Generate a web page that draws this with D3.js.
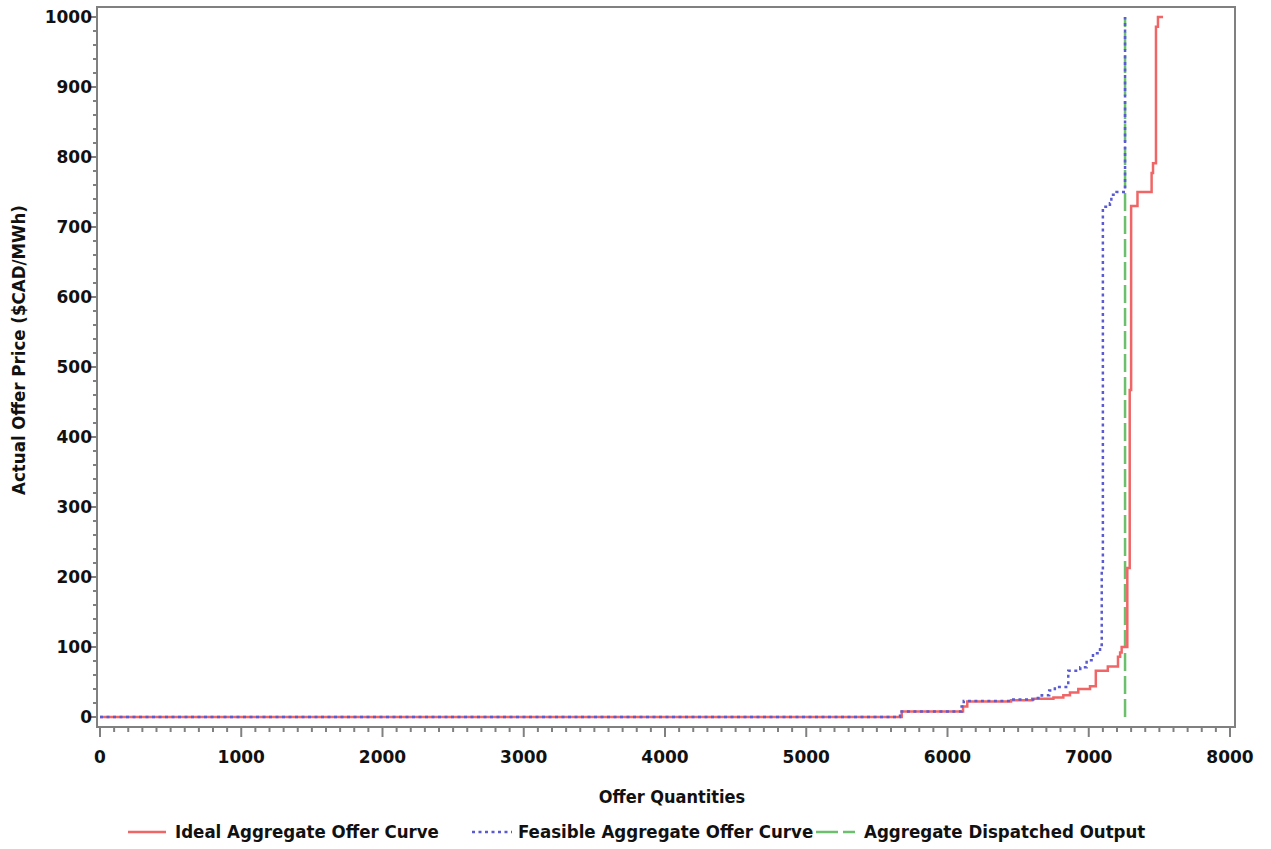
<!DOCTYPE html>
<html>
<head>
<meta charset="utf-8">
<script src="https://cdn.jsdelivr.net/npm/d3@7"></script>
<style>
  html, body { margin: 0; padding: 0; background: #fff; }
  svg { display: block; }
  .tick-label { font-family: "DejaVu Sans", sans-serif; font-weight: bold; font-size: 17px; fill: #111; }
  .cond { font-family: "DejaVu Sans Condensed", "DejaVu Sans", sans-serif; font-stretch: condensed; font-weight: bold; font-size: 18.5px; fill: #111; }
</style>
</head>
<body>
<svg id="chart" width="1271" height="849"></svg>
<script>
// Ideal aggregate offer curve (step points: quantity, price)
const idealQty   = [0, 5676, 6110, 6140, 6450, 6600, 6750, 6820, 6867, 6926, 7009, 7050, 7135, 7207, 7222, 7233, 7273, 7290, 7300, 7345, 7445, 7455, 7476, 7490, 7526];
const idealPrice = [0,    8,   15,   22,   24,   26,   28,   31,   35,   40,   44,   66,   72,   86,   92,  100,  213,  467,  730,  750,  777,  791,  986, 1000, 1000];

// Feasible aggregate offer curve
const feasQty   = [0, 5664, 6100, 6115, 6450, 6630, 6667, 6720, 6760, 6855, 6940, 6985, 7030, 7080, 7092, 7100, 7150, 7160, 7197, 7257, 7257];
const feasPrice = [0,    8,   15,   23,   25,   27,   31,   38,   43,   66,   71,   81,   91,  103,  210,  729,  734,  746,  750,  750, 1000];

// Aggregate dispatched output
const dispatchQty = 7257;
const dispatchPrice = [0, 1000];

const xTicks = [0, 1000, 2000, 3000, 4000, 5000, 6000, 7000, 8000];
const yTicks = [0, 100, 200, 300, 400, 500, 600, 700, 800, 900, 1000];

const legendLabels = ["Ideal Aggregate Offer Curve", "Feasible Aggregate Offer Curve", "Aggregate Dispatched Output"];

const colors = { ideal: "#f06666", feas: "#5a5ad2", disp: "#6cbf6c", axis: "#808080" };

const svg = d3.select("#chart");

const x = d3.scaleLinear().domain([0, 8000]).range([100, 1230]);
const y = d3.scaleLinear().domain([0, 1000]).range([717, 17]);

const frame = { left: 97, right: 1235, top: 7, bottom: 727 };

// plot frame
svg.append("rect")
  .attr("x", frame.left).attr("y", frame.top)
  .attr("width", frame.right - frame.left).attr("height", frame.bottom - frame.top)
  .attr("fill", "none").attr("stroke", colors.axis).attr("stroke-width", 2);

// x axis ticks
const xMinor = d3.range(0, 8001, 100);
svg.append("g").selectAll("line").data(xMinor).join("line")
  .attr("x1", d => x(d)).attr("x2", d => x(d))
  .attr("y1", frame.bottom).attr("y2", d => frame.bottom + (d % 1000 === 0 ? 10 : 5))
  .attr("stroke", colors.axis).attr("stroke-width", 2);
svg.append("g").selectAll("text").data(xTicks).join("text")
  .attr("class", "tick-label")
  .attr("x", d => x(d)).attr("y", 763)
  .attr("text-anchor", "middle")
  .text(d => d);

// y axis ticks
const yMinor = d3.range(0, 1001, 20);
svg.append("g").selectAll("line").data(yMinor).join("line")
  .attr("y1", d => y(d)).attr("y2", d => y(d))
  .attr("x1", frame.left).attr("x2", d => frame.left - (d % 100 === 0 ? 8 : 4))
  .attr("stroke", colors.axis).attr("stroke-width", 2);
svg.append("g").selectAll("text").data(yTicks).join("text")
  .attr("class", "tick-label")
  .attr("x", 92).attr("y", d => y(d) + 6)
  .attr("text-anchor", "end")
  .text(d => d);

// axis titles
svg.append("text").attr("class", "cond")
  .attr("x", 672).attr("y", 803).attr("text-anchor", "middle")
  .style("font-size", "18px")
  .text("Offer Quantities");
svg.append("text").attr("class", "cond")
  .attr("transform", "translate(25,350) rotate(-90)")
  .attr("text-anchor", "middle")
  .text("Actual Offer Price ($CAD/MWh)");

// curves
const line = d3.line().x(d => x(d[0])).y(d => y(d[1])).curve(d3.curveStepAfter);
const ideal = idealQty.map((q, i) => [q, idealPrice[i]]);
const feas = feasQty.map((q, i) => [q, feasPrice[i]]);
const disp = dispatchPrice.map(p => [dispatchQty, p]);

svg.append("path").datum(disp)
  .attr("d", d3.line().x(d => x(d[0])).y(d => y(d[1])))
  .attr("fill", "none").attr("stroke", colors.disp).attr("stroke-width", 2.5)
  .attr("stroke-dasharray", "18,5");

svg.append("path").datum(ideal)
  .attr("d", line)
  .attr("fill", "none").attr("stroke", colors.ideal).attr("stroke-width", 2.5);

svg.append("path").datum(feas)
  .attr("d", line)
  .attr("fill", "none").attr("stroke", colors.feas).attr("stroke-width", 2.5)
  .attr("stroke-dasharray", "3,3.5");

// legend
const legendY = 832;
const legendItems = [
  { x1: 128, x2: 166, tx: 175, color: colors.ideal, dash: null },
  { x1: 472, x2: 512, tx: 518, color: colors.feas, dash: "3,3.5" },
  { x1: 816, x2: 855, tx: 864, color: colors.disp, dash: "22,5" }
];
legendItems.forEach((it, i) => {
  svg.append("line")
    .attr("x1", it.x1).attr("x2", it.x2).attr("y1", legendY).attr("y2", legendY)
    .attr("stroke", it.color).attr("stroke-width", 2.5)
    .attr("stroke-dasharray", it.dash);
  svg.append("text").attr("class", "cond")
    .attr("x", it.tx).attr("y", legendY + 6)
    .text(legendLabels[i]);
});
</script>
</body>
</html>
